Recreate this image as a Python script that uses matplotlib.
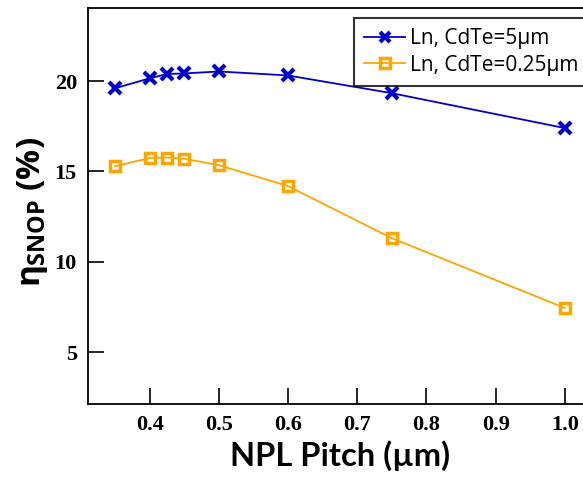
import matplotlib
matplotlib.use("Agg")
import matplotlib.pyplot as plt

# Données
pitch = [0.35, 0.40, 0.425, 0.45, 0.50, 0.60, 0.75, 1.00]
eta_cdte_5 = [19.6, 20.15, 20.39, 20.42, 20.53, 20.31, 19.33, 17.40]
eta_cdte_025 = [15.29, 15.74, 15.77, 15.70, 15.35, 14.19, 11.31, 7.45]
xticks = [0.4, 0.5, 0.6, 0.7, 0.8, 0.9, 1.0]
yticks = [5, 10, 15, 20]

plt.rcParams['mathtext.fontset'] = 'custom'
plt.rcParams['mathtext.rm'] = 'Open Sans:bold'
plt.rcParams['mathtext.it'] = 'Open Sans:bold'
plt.rcParams['mathtext.bf'] = 'Open Sans:bold'

W, H = 583, 496
fig = plt.figure(figsize=(W / 100, H / 100), dpi=100)
# axe volontairement plus large que la figure (bord droit coupé)
x0, x1 = 0.311, 1.04
y0, y1 = 2.14, 24.04
left, bottom, top = 88, 404, 8
largeur = (x1 - x0) / 0.1 * 69.2
ax = fig.add_axes([left / W, 1 - bottom / H, largeur / W, (bottom - top) / H])

ax.plot(pitch, eta_cdte_5, color='#0000cc', lw=1.3, marker='x', ms=9, mew=3,
        label='Ln, CdTe=5µm')
ax.plot(pitch, eta_cdte_025, color='#ffa500', lw=1.3, marker='s', ms=7, mew=2.5,
        mfc='none', label='Ln, CdTe=0.25µm')

ax.set_xlim(x0, x1)
ax.set_ylim(y0, y1)
ax.set_xticks(xticks)
ax.set_xticklabels([f"{v:.1f}" for v in xticks])
ax.set_yticks(yticks)
ax.tick_params(direction='in', length=11.5, width=1.2, pad=8)
for lab in ax.get_xticklabels() + ax.get_yticklabels():
    lab.set_fontfamily('Liberation Serif')
    lab.set_fontweight('bold')
    lab.set_fontsize(16)
for sp in ax.spines.values():
    sp.set_linewidth(1.3)

ax.set_xlabel('NPL Pitch (µm)', fontfamily='Lato', fontweight='bold', fontsize=23.5, labelpad=4)
fig.text(33 / W, 1 - 212 / H, r'$\eta_{\mathrm{SNOP}}$ (%)', rotation=90, ha='center', va='center',
         fontfamily='Open Sans', fontweight='bold', fontsize=24)

leg = ax.legend(loc='upper left', bbox_to_anchor=(354 / W, 1 - 18 / H), bbox_transform=fig.transFigure,
                prop={'family': 'Open Sans', 'size': 15}, frameon=True, fancybox=False,
                handlelength=1.95, borderpad=0.5, labelspacing=0.25, handletextpad=0.24,
                borderaxespad=0)
leg.get_frame().set_edgecolor('black')
leg.get_frame().set_linewidth(1.5)
for h in leg.legend_handles:
    h.set_markersize(7)

fig.savefig('out.png', dpi=100)
